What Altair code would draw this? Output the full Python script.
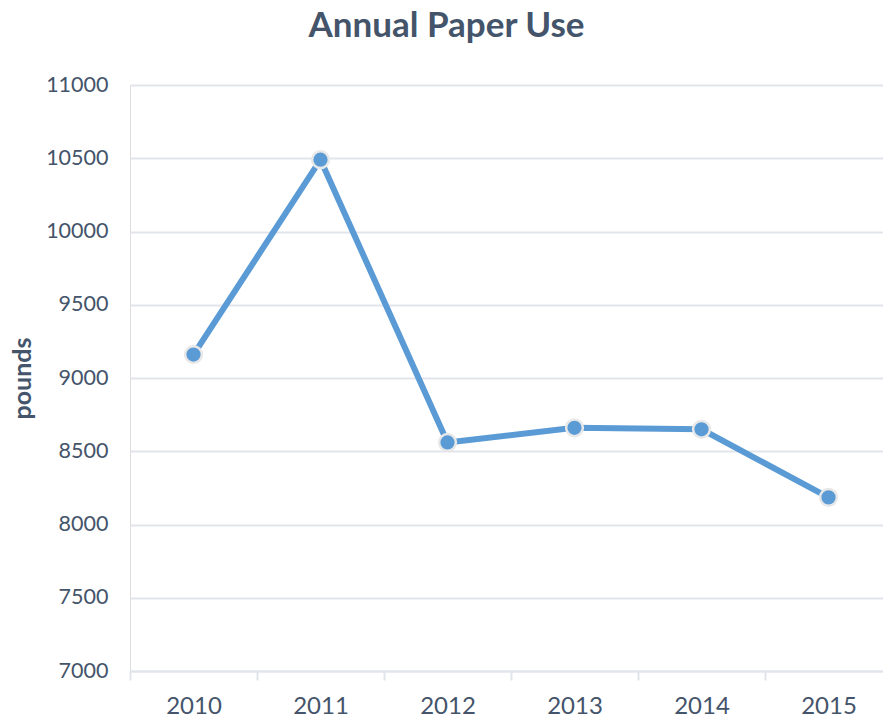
import altair as alt
import pandas as pd

years = ["2010", "2011", "2012", "2013", "2014", "2015"]
pounds = [9160, 10490, 8560, 8660, 8650, 8185]

df = pd.DataFrame({"year": years, "pounds": pounds})

TEXT = "#44546A"
GRID = "#E1E5EB"
BLUE = "#5B9BD5"

x = alt.X(
    "year:O",
    title=None,
    scale=alt.Scale(type="band", paddingInner=0, paddingOuter=0, range=[0, 762]),
    axis=alt.Axis(
        tickBand="extent",
        domainColor=GRID,
        domainWidth=2,
        tickColor=GRID,
        tickWidth=2,
        tickSize=9,
        labelAngle=0,
        labelFont="Lato",
        labelFontSize=24,
        labelColor=TEXT,
        labelPadding=14,
        grid=False,
    ),
)
y = alt.Y(
    "pounds:Q",
    title="pounds",
    scale=alt.Scale(domain=[7000, 11000], nice=False, zero=False),
    axis=alt.Axis(
        values=list(range(7000, 11001, 500)),
        format="d",
        domain=False,
        ticks=False,
        grid=True,
        gridColor=GRID,
        gridWidth=2,
        labelFont="Lato",
        labelFontSize=21.5,
        labelColor=TEXT,
        labelPadding=22,
        titleFont="Lato",
        titleFontSize=25,
        titleFontWeight="bold",
        titleColor=TEXT,
        titlePadding=10,
    ),
)

base = alt.Chart(df)
line = base.mark_line(color=BLUE, strokeWidth=6).encode(x=x, y=y)
pts = base.mark_point(
    filled=True, fill=BLUE, size=280, stroke="#E8E8E8", strokeWidth=2.5, opacity=1
).encode(x=x, y=y)

chart = (
    alt.layer(line, pts)
    .properties(
        width=753,
        height=586,
        title=alt.Title(
            "Annual Paper Use",
            font="Lato",
            fontSize=35,
            fontWeight="bold",
            color=TEXT,
            anchor="middle",
            dx=-60,
            offset=30,
        ),
        autosize=alt.AutoSizeParams(type="none"),
        padding={"left": 130, "top": 85, "right": 0, "bottom": 50},
    )
    .configure_view(stroke=None)
    .configure(background="white")
)

chart.save("out.html", embed_options={"renderer": "svg", "actions": False})
